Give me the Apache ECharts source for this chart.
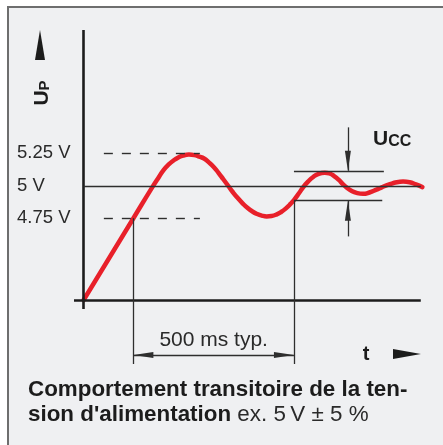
<!DOCTYPE html>
<html>
<head>
<meta charset="utf-8">
<title>Comportement transitoire</title>
<script src="https://cdn.jsdelivr.net/npm/echarts@6/dist/echarts.min.js"></script>
<style>
  html, body { margin: 0; padding: 0; background: #fff; }
  .frame {
    position: absolute; left: 7px; top: 6px; width: 434px; height: 437px;
    border-left: 2px solid #6e6e6e; border-top: 2px solid #6e6e6e;
    background: #eff0f2;
  }
  #chart { position: absolute; left: 0; top: 0; width: 443px; height: 445px; }
</style>
</head>
<body>
<div class="frame"></div>
<div id="chart"></div>
<script>
// supply voltage (t in ms, U in V)
const curveTime = [
  0, 155, 214, 235, 250, 265, 280, 295, 310, 328, 345, 360, 375, 390,
  405, 420, 435, 450, 465, 480, 495, 510, 525, 540, 555, 570, 585, 600,
  615, 630, 645, 655, 670, 684, 700, 715, 730, 751, 765, 780, 795, 808,
  820, 835, 850, 870, 890, 912, 930, 954, 975, 995, 1015, 1035, 1055
]
const curveVolt = [
  4.12, 4.75, 4.99, 5.07, 5.125, 5.165, 5.195, 5.218, 5.233, 5.24, 5.236, 5.224, 5.21, 5.18,
  5.145, 5.10, 5.05, 5.00, 4.95, 4.905, 4.865, 4.83, 4.803, 4.783, 4.77, 4.764, 4.767, 4.778,
  4.798, 4.826, 4.862, 4.89, 4.94, 4.99, 5.035, 5.068, 5.09, 5.10, 5.095, 5.075, 5.045, 5.01,
  4.985, 4.96, 4.945, 4.938, 4.948, 4.97, 4.99, 5.012, 5.027, 5.032, 5.027, 5.01, 4.99
]

// tick labels on the voltage axis
const levelValues = [4.75, 5, 5.25]
const levelLabels = ['4.75 V', '5 V', '5.25 V']

// schematic axes
const axisTime = [-30, 1050]
const axisVolt = [4.05, 6.2]
const baseVolt = 4.12
const nominalVolt = 5
const dashTime = [63, 362]

// 500 ms typ. dimension
const typTime = [155, 655]
const typLabel = '500 ms typ.'
const dimVolt = 3.696
const dropVolt = 3.627

// Ucc tolerance band
const uccBand = [4.885, 5.115]
const uccEnd = [930, 935]
const uccArrowTime = 823
const uccArrowEnds = [4.61, 5.45]

const font = 'Liberation Sans, Arial, Helvetica, sans-serif'
const ink = '#1c1c1c'
const thin = { color: '#2e2e2e', width: 1.3, type: 'solid' }
const heavy = { color: ink, width: 2.6, type: 'solid' }
const dashed = { color: '#2e2e2e', width: 1.4, type: [9, 9] }
const head = { symbol: 'triangle', symbolSize: [6, 20], symbolOffset: [0, 10] }
const noHead = { symbol: 'none' }

function seg(a, b, lineStyle, headA, headB, label) {
  const from = Object.assign({ coord: a, lineStyle: lineStyle }, headA || noHead)
  if (label) from.label = label
  return [from, Object.assign({ coord: b }, headB || noHead)]
}

const chart = echarts.init(document.getElementById('chart'))

const option = {
  animation: false,
  textStyle: { fontFamily: font },
  grid: { left: 74, right: 19, top: 30, bottom: 77.5 },
  xAxis: {
    type: 'value',
    min: -30,
    max: 1060,
    show: false
  },
  yAxis: {
    type: 'value',
    min: 3.6,
    max: 6.2,
    axisLine: { show: false },
    axisTick: { show: false },
    splitLine: { show: false },
    axisLabel: {
      customValues: levelValues,
      formatter: (v) => levelLabels[levelValues.indexOf(v)],
      align: 'left',
      margin: 57,
      fontSize: 18.5,
      color: '#2a2a2a',
      fontFamily: font
    }
  },
  series: [
    {
      type: 'line',
      z: 2,
      data: [],
      silent: true,
      markLine: {
        silent: true,
        symbol: 'none',
        label: { show: false },
        emphasis: { disabled: true },
        data: [
          seg([0, axisVolt[0]], [0, axisVolt[1]], heavy),
          seg([axisTime[0], baseVolt], [axisTime[1], baseVolt], heavy),
          seg([0, nominalVolt], [axisTime[1], nominalVolt], thin),
          seg([dashTime[0], levelValues[2]], [dashTime[1], levelValues[2]], dashed),
          seg([dashTime[0], levelValues[0]], [dashTime[1], levelValues[0]], dashed),
          seg([typTime[0], levelValues[0]], [typTime[0], dropVolt], thin),
          seg([typTime[1], uccBand[0]], [typTime[1], dropVolt], thin),
          seg([typTime[1], uccBand[1]], [uccEnd[1], uccBand[1]], thin),
          seg([typTime[1], uccBand[0]], [uccEnd[0], uccBand[0]], thin),
          seg([uccArrowTime, uccArrowEnds[1]], [uccArrowTime, uccBand[1]], thin, noHead, head),
          seg([uccArrowTime, uccArrowEnds[0]], [uccArrowTime, uccBand[0]], thin, noHead, head),
          seg([typTime[0], dimVolt], [typTime[1], dimVolt], thin, head, head, {
            show: true,
            position: 'insideMiddleTop',
            distance: 4,
            formatter: typLabel,
            fontSize: 21,
            color: '#2a2a2a',
            fontFamily: font
          })
        ]
      }
    },
    {
      type: 'line',
      z: 3,
      silent: true,
      smooth: true,
      showSymbol: false,
      lineStyle: { color: '#e8202a', width: 4.5, cap: 'round' },
      data: curveTime.map((t, i) => [t, curveVolt[i]])
    }
  ],
  graphic: {
    elements: [
      // axis arrows
      { type: 'polygon', shape: { points: [[40, 30], [45, 60], [35, 60]] }, style: { fill: ink } },
      { type: 'polygon', shape: { points: [[421, 354], [393, 349], [393, 359]] }, style: { fill: ink } },
      {
        type: 'text', x: 42, y: 93, rotation: Math.PI / 2,
        style: {
          text: '{u|U}{p|P}', align: 'center', verticalAlign: 'middle',
          textAlign: 'center', textVerticalAlign: 'middle',
          rich: {
            u: { fontSize: 21, fontWeight: 'bold', fill: ink, fontFamily: font, verticalAlign: 'bottom' },
            p: { fontSize: 15, fontWeight: 'bold', fill: ink, fontFamily: font, verticalAlign: 'bottom' }
          }
        }
      },
      {
        type: 'text', x: 366, y: 354,
        style: {
          text: 't', fontSize: 20, fontWeight: 'bold', fill: ink, fontFamily: font,
          align: 'center', verticalAlign: 'middle', textAlign: 'center', textVerticalAlign: 'middle'
        }
      },
      {
        type: 'text', x: 373, y: 139,
        style: {
          text: '{u|U}{c|CC}', align: 'left', verticalAlign: 'middle',
          textAlign: 'left', textVerticalAlign: 'middle',
          rich: {
            u: { fontSize: 21, fontWeight: 'bold', fill: ink, fontFamily: font, verticalAlign: 'bottom' },
            c: { fontSize: 16, fontWeight: 'bold', fill: ink, fontFamily: font, verticalAlign: 'bottom' }
          }
        }
      },
      // caption
      {
        type: 'text', x: 28, y: 390,
        style: {
          text: 'Comportement transitoire de la ten-', fontSize: 22.4, fontWeight: 'bold', fill: ink, fontFamily: font,
          align: 'left', verticalAlign: 'middle', textAlign: 'left', textVerticalAlign: 'middle'
        }
      },
      {
        type: 'text', x: 28, y: 415,
        style: {
          text: '{b|sion d\'alimentation}{r| ex. 5\u2009V ± 5 %}', align: 'left', verticalAlign: 'middle',
          textAlign: 'left', textVerticalAlign: 'middle',
          rich: {
            b: { fontSize: 22.4, fontWeight: 'bold', fill: ink, fontFamily: font },
            r: { fontSize: 22.4, fill: '#2a2a2a', fontFamily: font }
          }
        }
      }
    ]
  }
}

chart.setOption(option)
</script>
</body>
</html>
